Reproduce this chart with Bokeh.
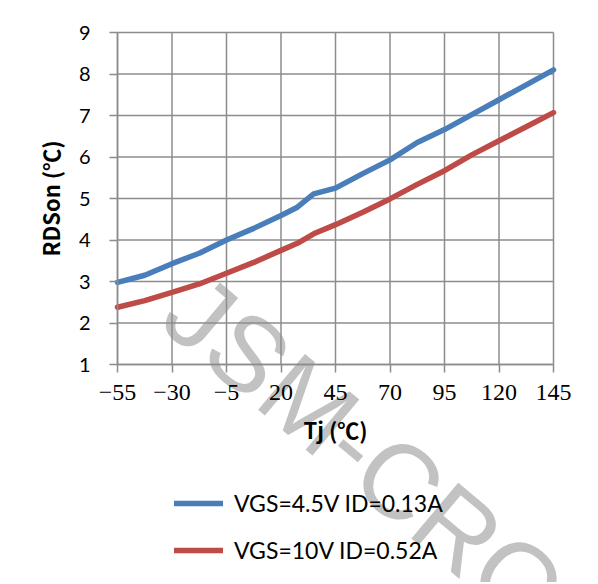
import math
from bokeh.plotting import figure
from bokeh.models import Legend, LegendItem, Label, FixedTicker, Range1d
from bokeh.embed import file_html
from bokeh.resources import INLINE

# ---- data ----
tj = [-55, -42.5, -30, -17.5, -5, 7.5, 20, 27.5, 35, 45,
      57.5, 70, 82.5, 95, 107.5, 120, 132.5, 145]
rds_vgs45 = [2.98, 3.15, 3.43, 3.68, 4.00, 4.28, 4.59, 4.79, 5.11, 5.25,
             5.60, 5.93, 6.35, 6.66, 7.02, 7.38, 7.74, 8.10]
rds_vgs10 = [2.38, 2.54, 2.74, 2.94, 3.20, 3.46, 3.75, 3.92, 4.15, 4.37,
             4.67, 4.99, 5.34, 5.67, 6.05, 6.39, 6.73, 7.07]
series_labels = ["VGS=4.5V ID=0.13A", "VGS=10V ID=0.52A"]
x_ticks = [-55, -30, -5, 20, 45, 70, 95, 120, 145]
x_tick_labels = ["\u221255", "\u221230", "\u22125", "20", "45", "70", "95", "120", "145"]
y_ticks = [1, 2, 3, 4, 5, 6, 7, 8, 9]
x_title = "Tj (\u2103)"
y_title = "RDSon (\u2103)"
watermark = "JSM-CRO"

# ---- layout (pixels) ----
W, H = 596, 582
PLOT_L, PLOT_R, PLOT_T, PLOT_B = 117, 553, 32, 364   # where -55, 145, 9 and 1 sit
x_lo, x_hi = x_ticks[0], x_ticks[-1]
y_lo, y_hi = y_ticks[0], y_ticks[-1]
ppx = (PLOT_R - PLOT_L) / (x_hi - x_lo)
ppy = (PLOT_B - PLOT_T) / (y_hi - y_lo)
x_start = x_lo - PLOT_L / ppx
x_end = x_lo + (W - PLOT_L) / ppx
y_end = y_hi + PLOT_T / ppy
y_start = y_hi - (H - PLOT_T) / ppy

BLUE = "#4A7EBB"
RED = "#BE4B48"
GRID = "#8c8c8c"
SANS = "Lato, 'Noto Sans CJK SC'"
TITLE_FONT = "'Noto Sans CJK SC'"

p = figure(width=W, height=H, output_backend="svg", toolbar_location=None,
           x_range=Range1d(x_start, x_end), y_range=Range1d(y_start, y_end),
           min_border_left=0, min_border_right=0,
           min_border_top=0, min_border_bottom=0)
p.background_fill_color = "white"
p.border_fill_color = "white"
p.outline_line_color = None
p.grid.grid_line_color = None

# watermark (beneath everything)
wm = Label(x=-26.1, y=2.64, text=watermark, angle=-40 * math.pi / 180,
           text_font="Liberation Sans", text_font_size="106px",
           text_color="#bfbfbf", text_alpha=0.95,
           text_align="left", text_baseline="alphabetic", level="underlay")
p.add_layout(wm)

# grid lines limited to the plotted area, from the tick lists
nx, ny = len(x_ticks), len(y_ticks)
p.segment(x0=x_ticks, y0=[y_lo] * nx, x1=x_ticks, y1=[y_hi] * nx,
          line_color=GRID, line_width=1.5)
p.segment(x0=[x_lo] * ny, y0=y_ticks, x1=[x_hi] * ny, y1=y_ticks,
          line_color=GRID, line_width=1.5)

# axes (pinned to the data corner so that nothing is clipped)
p.xaxis.ticker = FixedTicker(ticks=x_ticks)
p.xaxis.major_label_overrides = {t: l for t, l in zip(x_ticks, x_tick_labels)}
p.xaxis.fixed_location = y_lo
p.xaxis.bounds = (x_lo, x_hi)
p.yaxis.ticker = FixedTicker(ticks=y_ticks)
p.yaxis.fixed_location = x_lo
p.yaxis.bounds = (y_lo, y_hi)
for ax in (p.xaxis, p.yaxis):
    ax.axis_line_color = GRID
    ax.axis_line_width = 1.5
    ax.major_tick_line_color = GRID
    ax.major_tick_line_width = 1.5
    ax.major_tick_out = 8
    ax.major_tick_in = 0
    ax.minor_tick_line_color = None
    ax.major_label_text_color = "black"
    ax.axis_label_text_color = "black"
    ax.axis_label_text_font_style = "bold"
    ax.axis_label_text_font = TITLE_FONT
    ax.axis_label_text_font_size = "22px"

p.xaxis.major_label_text_font = "Liberation Serif"
p.xaxis.major_label_text_font_size = "24px"
p.xaxis.major_label_standoff = 12
p.xaxis.axis_label = x_title
p.xaxis.axis_label_standoff = 10

p.yaxis.major_label_text_font = SANS
p.yaxis.major_label_text_font_size = "20px"
p.yaxis.major_label_standoff = 19
p.yaxis.axis_label = y_title
p.yaxis.axis_label_standoff = 10

r1 = p.line(tj, rds_vgs45, line_color=BLUE, line_width=5.5,
            line_cap="round", line_join="round")
r2 = p.line(tj, rds_vgs10, line_color=RED, line_width=5.5,
            line_cap="round", line_join="round")

legend = Legend(items=[LegendItem(label=series_labels[0], renderers=[r1]),
                       LegendItem(label=series_labels[1], renderers=[r2])],
                location=(174, 17), orientation="vertical")
legend.padding = 0
legend.margin = 0
legend.spacing = 17
legend.glyph_width = 49
legend.glyph_height = 30
legend.label_height = 30
legend.label_standoff = 11
legend.label_text_font = SANS
legend.label_text_font_size = "23px"
legend.label_text_color = "black"
legend.border_line_color = None
legend.background_fill_alpha = 0
p.add_layout(legend, "center")

open("out.html", "w").write(file_html(p, INLINE))
